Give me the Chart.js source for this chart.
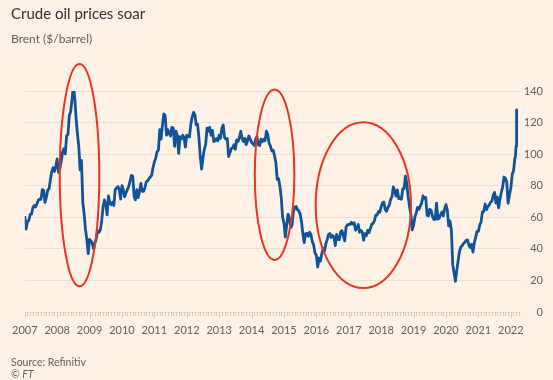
<!DOCTYPE html>
<html>
<head>
<meta charset="utf-8">
<script src="https://cdn.jsdelivr.net/npm/chart.js@4"></script>
<style>
  html, body { margin: 0; padding: 0; background: #fff1e5; }
  #wrap { position: relative; width: 553px; height: 380px; overflow: hidden; font-family: Lato, sans-serif; line-height: 1; }
  #chart { position: absolute; left: 0; top: 0; }
  .title { position: absolute; left: 11px; top: 6px; font-size: 15px; color: #33302e; }
  .sub { position: absolute; left: 11px; top: 33px; font-size: 12px; color: #66605c; }
  .source { position: absolute; left: 11px; top: 357px; font-size: 10.5px; color: #66605c; }
  .ft { position: absolute; left: 11px; top: 369px; font-size: 10.5px; color: #66605c; font-style: italic; }
</style>
</head>
<body>
<div id="wrap">
  <canvas id="chart" width="553" height="380"></canvas>
  <div class="title">Crude oil prices soar</div>
  <div class="sub">Brent ($/barrel)</div>
  <div class="source">Source: Refinitiv</div>
  <div class="ft">© FT</div>
</div>
<script>
// Brent, two readings a month (around the 1st and the 16th)
const y2007 = [60.8, 52.5, 57.3, 58.0, 61.8, 62.0, 66.0, 67.5, 66.5, 68.5, 70.7, 71.5, 71.3, 77.5, 77.0, 69.5, 72.6, 77.2, 78.0, 83.9, 89.0, 91.4, 89.0, 92.5];
const y2008 = [97.0, 88.5, 91.0, 95.5, 101.0, 103.5, 100.2, 111.5, 112.5, 124.5, 127.0, 134.5, 143.9, 136.0, 123.0, 113.0, 105.0, 90.0, 96.0, 69.5, 62.0, 52.0, 46.0, 37.0];
const y2009 = [46.0, 45.0, 43.5, 40.0, 44.0, 46.5, 51.5, 50.5, 52.0, 58.0, 66.5, 71.0, 68.5, 61.5, 73.5, 69.0, 68.0, 69.5, 67.5, 77.5, 78.5, 79.5, 77.5, 71.5];
const y2010 = [80.1, 77.5, 73.0, 75.5, 77.5, 79.5, 83.0, 86.5, 86.0, 73.0, 71.0, 77.5, 72.5, 76.0, 81.5, 76.5, 76.5, 78.5, 82.5, 83.0, 84.5, 85.5, 86.5, 91.5];
const y2011 = [95.0, 97.5, 101.5, 102.5, 115.5, 109.5, 118.5, 125.5, 124.5, 112.0, 115.5, 113.0, 111.5, 117.0, 116.5, 105.0, 114.5, 112.0, 100.5, 111.0, 109.5, 112.0, 110.5, 104.5];
const y2012 = [112.0, 111.0, 111.0, 119.0, 123.5, 126.5, 125.0, 118.5, 119.0, 110.5, 98.5, 90.5, 97.5, 103.0, 106.0, 116.5, 114.5, 117.0, 112.0, 115.0, 108.0, 108.5, 110.0, 108.5];
const y2013 = [112.0, 110.0, 116.5, 118.5, 110.5, 109.5, 110.0, 98.5, 101.0, 103.5, 104.0, 106.0, 103.0, 109.0, 108.0, 110.5, 114.5, 110.0, 108.0, 110.0, 106.0, 108.5, 111.5, 109.5];
const y2014 = [107.5, 106.5, 105.5, 109.5, 111.0, 106.0, 105.5, 109.5, 108.0, 109.5, 108.5, 114.5, 112.5, 107.0, 105.0, 102.0, 102.5, 99.0, 94.5, 84.0, 84.5, 79.5, 72.5, 60.0];
const y2015 = [56.4, 47.5, 54.8, 62.0, 59.5, 53.5, 55.0, 63.5, 66.5, 66.8, 64.9, 64.0, 62.0, 57.0, 49.5, 44.0, 49.6, 49.8, 48.0, 50.5, 49.0, 44.5, 42.5, 37.2];
const y2016 = [36.0, 28.5, 34.2, 32.2, 36.8, 40.3, 38.7, 43.1, 45.8, 49.0, 49.7, 47.2, 48.4, 47.6, 42.1, 49.2, 46.0, 45.8, 50.9, 51.5, 48.1, 45.0, 53.9, 55.2];
const y2017 = [55.5, 55.5, 56.8, 55.7, 56.5, 51.8, 53.1, 55.4, 50.5, 51.7, 50.6, 45.5, 49.7, 48.4, 51.8, 50.3, 52.8, 55.6, 56.1, 57.8, 61.4, 61.4, 63.7, 63.2];
const y2018 = [66.6, 69.2, 69.7, 64.8, 63.8, 66.2, 67.6, 71.4, 73.1, 79.3, 76.8, 73.4, 77.3, 71.8, 72.4, 71.4, 78.2, 78.1, 86.0, 81.4, 72.9, 66.8, 61.7, 52.0];
const y2019 = [54.9, 60.3, 62.8, 66.3, 65.1, 67.2, 69.0, 73.5, 72.0, 72.6, 61.3, 60.9, 65.1, 64.4, 60.5, 58.6, 58.7, 69.0, 58.9, 59.4, 61.7, 63.3, 60.9, 65.3];
const y2020 = [68.0, 64.6, 54.5, 57.7, 51.9, 30.0, 24.7, 19.5, 26.4, 32.5, 38.3, 41.0, 42.0, 43.4, 44.2, 45.4, 45.6, 42.2, 40.9, 42.9, 38.0, 43.8, 47.4, 51.1];
const y2021 = [51.1, 55.1, 57.0, 63.4, 63.7, 68.4, 64.9, 66.8, 67.6, 69.5, 70.3, 74.0, 75.8, 69.0, 72.9, 66.0, 71.6, 75.7, 79.3, 85.5, 84.7, 82.4, 68.9, 74.0];
const dates2022 = ['2022-01-03', '2022-01-18', '2022-02-01', '2022-02-14', '2022-02-24', '2022-03-01', '2022-03-04', '2022-03-08', '2022-03-10'];
const y2022 = [79.0, 87.5, 89.2, 96.5, 99.1, 105.0, 118.1, 128.0, 111.1];

const firstYear = 2007;
const yearly = [y2007, y2008, y2009, y2010, y2011, y2012, y2013, y2014, y2015, y2016, y2017, y2018, y2019, y2020, y2021];

const points = [];
yearly.forEach((vals, k) => {
    vals.forEach((v, i) => points.push({ x: firstYear + k + i / 24, y: v }));
});
dates2022.forEach((d, i) => {
    const t = new Date(d + 'T00:00:00Z');
    const start = Date.UTC(t.getUTCFullYear(), 0, 1);
    points.push({ x: t.getUTCFullYear() + (t - start) / (365 * 864e5), y: y2022[i] });
});

// little month comb under the x axis
const monthTicks = {
    id: 'monthTicks',
    afterDraw(chart) {
        const xs = chart.scales.x;
        const ctx = chart.ctx;
        const top = chart.chartArea.bottom;
        ctx.save();
        ctx.strokeStyle = '#d6cabe';
        ctx.lineWidth = 1;
        for (let m = 0; m <= 15 * 12 + 3; m++) {
            const px = Math.round(xs.getPixelForValue(firstYear + m / 12)) + 0.5;
            const len = m % 12 === 0 ? 6 : 4;
            ctx.beginPath();
            ctx.moveTo(px, top);
            ctx.lineTo(px, top + len);
            ctx.stroke();
        }
        ctx.restore();
    }
};

// red rings drawn in data units
const rings = {
    id: 'rings',
    afterDatasetsDraw(chart, args, opts) {
        const { x, y } = chart.scales;
        const ctx = chart.ctx;
        ctx.save();
        ctx.strokeStyle = opts.color;
        ctx.lineWidth = opts.width;
        opts.items.forEach(r => {
            const cx = x.getPixelForValue(r.x);
            const cy = y.getPixelForValue(r.y);
            const rx = Math.abs(x.getPixelForValue(r.x + r.rx) - cx);
            const ry = Math.abs(y.getPixelForValue(r.y + r.ry) - cy);
            ctx.beginPath();
            ctx.ellipse(cx, cy, rx, ry, 0, 0, Math.PI * 2);
            ctx.stroke();
        });
        ctx.restore();
    }
};

Chart.defaults.font.family = 'Lato';

new Chart(document.getElementById('chart'), {
    type: 'line',
    data: {
        datasets: [{
            label: 'Brent',
            data: points,
            borderColor: '#0f5499',
            borderWidth: 2.8,
            borderJoinStyle: 'round',
            pointRadius: 0,
            tension: 0,
            fill: false
        }]
    },
    options: {
        responsive: false,
        animation: false,
        devicePixelRatio: 1,
        layout: { padding: { left: 23, right: 10, top: 91, bottom: 43 } },
        plugins: {
            legend: { display: false },
            tooltip: { enabled: false },
            rings: {
                color: '#e8361f',
                width: 2,
                items: [
                    { x: 2008.69, y: 86.7, rx: 0.61, ry: 70.4 },
                    { x: 2014.71, y: 87.0, rx: 0.61, ry: 54.0 },
                    { x: 2017.45, y: 67.7, rx: 1.47, ry: 52.5 }
                ]
            }
        },
        scales: {
            x: {
                type: 'linear',
                min: 2007,
                max: 2022.3,
                grid: { display: false, drawTicks: false },
                border: { display: false },
                ticks: {
                    stepSize: 1,
                    includeBounds: false,
                    autoSkip: false,
                    maxRotation: 0,
                    padding: 12,
                    color: '#66605c',
                    font: { size: 11 },
                    callback: v => String(v)
                },
                afterFit(s) { s.height = 25; }
            },
            y: {
                position: 'right',
                min: 0,
                max: 140,
                grid: { color: '#ece0d4', drawTicks: false },
                border: { display: false },
                ticks: {
                    stepSize: 20,
                    crossAlign: 'far',
                    padding: 3.5,
                    color: '#66605c',
                    font: { size: 11 }
                },
                afterFit(s) { s.width = 22.5; }
            }
        }
    },
    plugins: [monthTicks, rings]
});
</script>
</body>
</html>
